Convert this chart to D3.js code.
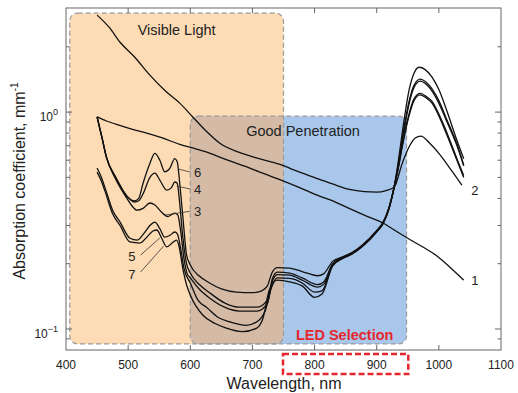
<!DOCTYPE html>
<html>
<head>
    <meta charset="utf-8">
    <script type="text/javascript" src="https://cdn.jsdelivr.net/npm/d3@7"></script>
    <style>
        body { margin: 0; background: #fff; }
        svg text { font-family: "Liberation Sans", Arial, Helvetica, sans-serif; fill: #222; }
    </style>
</head>
<body>
    <div id="viz"></div>
    <script type="text/javascript">
    //Size of the picture
    var width = 518;
    var height = 393;

    //Axis ticks
    var wavelengthTicks = [400, 500, 600, 700, 800, 900, 1000, 1100];
    var majorY = [1, 0.1];
    var minorY = [0.09, 0.2, 0.3, 0.4, 0.5, 0.6, 0.7, 0.8, 0.9, 2];

    //Shaded regions (wavelength from/to, absorption top/bottom)
    var visibleBand = [406, 750, 2.86, 0.0853];
    var penetrationBand = [600, 948, 0.958, 0.0853];
    var ledRange = [750, 950];

    //Spectra: [wavelength nm, absorption mm^-1]
    var curve1 = [[450,0.95],[465,0.91],[480,0.88],[503,0.84],[530,0.80],[555,0.76],[583,0.71],[610,0.675],[631,0.647],[660,0.60],[690,0.56],[711,0.53],[743,0.49],[775,0.45],[808,0.41],[824,0.395],[860,0.355],[880,0.335],[910,0.308],[936,0.277],[950,0.262],[975,0.238],[997,0.217],[1020,0.19],[1040,0.168]];
    var curve2 = [[450,2.80],[470,2.45],[487,2.10],[510,1.80],[535,1.48],[560,1.25],[583,1.10],[604,0.95],[625,0.82],[647,0.72],[680,0.65],[711,0.61],[743,0.575],[775,0.53],[808,0.49],[830,0.465],[856,0.44],[880,0.43],[900,0.428],[915,0.435],[928,0.45],[941,0.58],[952,0.69],[962,0.76],[971,0.775],[985,0.72],[1000,0.645],[1020,0.54],[1037,0.46]];
    var curve3 = [[450,0.95],[458,0.76],[465,0.62],[480,0.49],[498,0.40],[506,0.37],[514,0.353],[524,0.36],[535,0.381],[543,0.373],[554,0.345],[564,0.33],[575,0.342],[580,0.335],[584,0.29],[590,0.21],[595,0.18],[600,0.172],[615,0.152],[631,0.139],[655,0.126],[679,0.121],[707,0.121],[724,0.131],[732,0.165],[740,0.178],[760,0.177],[780,0.168],[805,0.156],[815,0.161],[829,0.199],[845,0.213],[860,0.223],[877,0.242],[900,0.282],[910,0.307],[920,0.362],[928,0.45],[935,0.57],[941,0.73],[952,1.09],[960,1.30],[970,1.39],[980,1.34],[989,1.25],[1000,1.10],[1011,0.93],[1030,0.69],[1040,0.565]];
    var curve4 = [[450,0.95],[458,0.76],[465,0.62],[480,0.50],[498,0.41],[510,0.385],[517,0.39],[524,0.42],[535,0.50],[543,0.523],[551,0.486],[562,0.437],[570,0.45],[575,0.476],[579,0.47],[583,0.38],[588,0.265],[594,0.20],[600,0.181],[615,0.16],[631,0.147],[655,0.132],[679,0.126],[707,0.126],[724,0.136],[732,0.170],[740,0.183],[760,0.181],[780,0.172],[805,0.160],[815,0.165],[829,0.20],[845,0.214],[860,0.224],[877,0.243],[900,0.283],[910,0.308],[920,0.363],[928,0.45],[935,0.58],[941,0.75],[952,1.12],[960,1.33],[970,1.42],[980,1.37],[989,1.28],[1000,1.13],[1011,0.95],[1030,0.70],[1040,0.57]];
    var curve5 = [[450,0.552],[457,0.50],[463,0.446],[475,0.353],[487,0.311],[503,0.262],[515,0.257],[525,0.275],[535,0.30],[543,0.311],[551,0.29],[559,0.265],[567,0.27],[575,0.28],[579,0.275],[584,0.24],[590,0.19],[600,0.163],[613,0.135],[626,0.126],[645,0.113],[663,0.108],[690,0.104],[711,0.110],[720,0.120],[731,0.156],[740,0.172],[760,0.171],[780,0.163],[800,0.148],[812,0.15],[829,0.197],[845,0.212],[860,0.222],[877,0.241],[900,0.281],[910,0.306],[920,0.361],[928,0.45],[935,0.56],[941,0.70],[952,0.98],[960,1.15],[970,1.22],[980,1.18],[989,1.12],[1000,0.98],[1011,0.83],[1030,0.60],[1040,0.51]];
    var curve6 = [[450,0.95],[458,0.76],[465,0.62],[480,0.50],[498,0.41],[510,0.39],[517,0.40],[524,0.47],[535,0.58],[543,0.645],[551,0.60],[559,0.53],[567,0.55],[575,0.61],[579,0.59],[583,0.47],[588,0.33],[594,0.22],[600,0.197],[615,0.175],[631,0.163],[650,0.153],[674,0.148],[700,0.147],[715,0.150],[724,0.158],[732,0.183],[740,0.192],[760,0.191],[780,0.184],[805,0.176],[815,0.18],[829,0.205],[845,0.215],[860,0.225],[877,0.244],[900,0.285],[910,0.31],[920,0.365],[928,0.45],[935,0.60],[941,0.80],[952,1.26],[960,1.51],[968,1.61],[978,1.57],[989,1.45],[1000,1.27],[1011,1.05],[1027,0.77],[1040,0.61]];
    var curve7 = [[450,0.529],[457,0.48],[463,0.43],[475,0.34],[487,0.30],[503,0.252],[519,0.249],[530,0.265],[540,0.283],[546,0.286],[554,0.262],[562,0.239],[570,0.248],[578,0.257],[582,0.24],[588,0.19],[594,0.16],[600,0.1435],[620,0.116],[640,0.106],[658,0.101],[684,0.0973],[707,0.101],[717,0.112],[727,0.151],[740,0.168],[760,0.165],[780,0.158],[800,0.140],[812,0.145],[829,0.195],[845,0.211],[860,0.221],[877,0.240],[900,0.280],[910,0.305],[920,0.36],[928,0.45],[935,0.555],[941,0.69],[952,0.96],[960,1.13],[970,1.20],[980,1.16],[989,1.10],[1000,0.96],[1011,0.81],[1030,0.59],[1040,0.50]];
    var curves = [curve1, curve2, curve3, curve4, curve5, curve6, curve7];

    //Curve labels: text, text position, optional leader line [from, to]
    var curveLabels = [
        {t: '1', at: [1052, 0.168]},
        {t: '2', at: [1052, 0.437]},
        {t: '6', at: [606, 0.53], from: [581, 0.546], to: [600, 0.529]},
        {t: '4', at: [606, 0.442], from: [578, 0.456], to: [600, 0.442]},
        {t: '3', at: [606, 0.349], from: [559, 0.335], to: [600, 0.349]},
        {t: '5', at: [512, 0.216], from: [551, 0.263], to: [520, 0.219], end: true},
        {t: '7', at: [512, 0.18], from: [557, 0.241], to: [520, 0.183], end: true}
    ];

    //Scales
    var x = d3.scaleLinear().domain([400, 1100]).range([66, 501]);
    var y = d3.scaleLog().domain([0.08, 3.02]).range([350, 8]);

    var svg = d3.select("#viz").append("svg")
        .attr("width", width)
        .attr("height", height);

    //Bands
    function bandRect(sel, b) {
        return sel.attr("x", x(b[0])).attr("y", y(b[2]))
            .attr("width", x(b[1]) - x(b[0]))
            .attr("height", y(b[3]) - y(b[2]))
            .attr("rx", 8).attr("ry", 8);
    }
    svg.append("clipPath").attr("id", "visClip")
        .append("rect").call(bandRect, visibleBand);

    svg.append("rect").call(bandRect, visibleBand).attr("fill", "#fddcb5");
    svg.append("rect").call(bandRect, penetrationBand).attr("fill", "#a8c7ea");
    svg.append("rect").call(bandRect, penetrationBand).attr("fill", "#d5bba6")
        .attr("clip-path", "url(#visClip)");
    [visibleBand, penetrationBand].forEach(function(b) {
        svg.append("rect").call(bandRect, b)
            .attr("fill", "none").attr("stroke", "#9a9a9a")
            .attr("stroke-width", 1.2).attr("stroke-dasharray", "5,3");
    });

    svg.append("text").attr("x", (x(visibleBand[0]) + x(visibleBand[1])) / 2).attr("y", 35)
        .attr("text-anchor", "middle").style("font-size", "14.5px").text("Visible Light");
    svg.append("text").attr("x", 303).attr("y", y(penetrationBand[2]) + 20)
        .attr("text-anchor", "middle").style("font-size", "14.5px").text("Good Penetration");
    svg.append("text").attr("x", (x(ledRange[0]) + x(ledRange[1])) / 2 - 1).attr("y", 340)
        .attr("text-anchor", "middle").style("font-size", "14.5px").style("font-weight", "bold")
        .style("fill", "#e5262d").text("LED Selection");

    //Frame
    svg.append("rect").attr("x", 66).attr("y", 8).attr("width", 435).attr("height", 342)
        .attr("fill", "none").attr("stroke", "#666").attr("stroke-width", 1);

    //X axis ticks (inward, bottom and top)
    var xt = svg.append("g").attr("stroke", "#666");
    wavelengthTicks.slice(1, -1).forEach(function(t) {
        xt.append("line").attr("x1", x(t)).attr("x2", x(t)).attr("y1", 350).attr("y2", 345);
        xt.append("line").attr("x1", x(t)).attr("x2", x(t)).attr("y1", 8).attr("y2", 13);
    });
    svg.selectAll(".xlab").data(wavelengthTicks).enter().append("text")
        .attr("x", function(d) { return x(d); }).attr("y", 369)
        .attr("text-anchor", "middle").style("font-size", "12px")
        .text(function(d) { return d; });

    //Y axis ticks (log, inward, left and right)
    var yt = svg.append("g").attr("stroke", "#666");
    majorY.forEach(function(v) {
        yt.append("line").attr("x1", 66).attr("x2", 72).attr("y1", y(v)).attr("y2", y(v));
        yt.append("line").attr("x1", 501).attr("x2", 495).attr("y1", y(v)).attr("y2", y(v));
    });
    minorY.forEach(function(v) {
        yt.append("line").attr("x1", 66).attr("x2", 69.5).attr("y1", y(v)).attr("y2", y(v));
        yt.append("line").attr("x1", 501).attr("x2", 497.5).attr("y1", y(v)).attr("y2", y(v));
    });
    majorY.forEach(function(v) {
        var t = svg.append("text").attr("x", 58).attr("y", y(v) + 9)
            .attr("text-anchor", "end").style("font-size", "12px");
        t.append("tspan").text("10");
        t.append("tspan").attr("dy", -6).style("font-size", "9px")
            .text(Math.round(Math.log10(v)) < 0 ? "\u2212" + (-Math.round(Math.log10(v))) : "0");
    });

    //Red dashed box around LED ticks
    svg.append("rect").attr("x", x(ledRange[0]) - 0.5).attr("y", 354)
        .attr("width", x(ledRange[1]) - x(ledRange[0]) + 1).attr("height", 20)
        .attr("fill", "none").attr("stroke", "#e5262d")
        .attr("stroke-width", 2.5).attr("stroke-dasharray", "6,3");

    //Axis titles
    svg.append("text").attr("x", 284).attr("y", 389).attr("text-anchor", "middle")
        .style("font-size", "16px").text("Wavelength, nm");
    var yl = svg.append("text").attr("transform", "translate(25,181) rotate(-90)")
        .attr("text-anchor", "middle").style("font-size", "16px");
    yl.append("tspan").text("Absorption coefficient, mm");
    yl.append("tspan").attr("dy", -7).style("font-size", "10px").text("-1");

    //Spectra
    var line = d3.line()
        .x(function(d) { return x(d[0]); })
        .y(function(d) { return y(d[1]); })
        .curve(d3.curveMonotoneX);
    svg.selectAll(".spec").data(curves).enter().append("path")
        .attr("d", line)
        .attr("fill", "none").attr("stroke", "#111").attr("stroke-width", 1.3);

    //Labels and leaders
    curveLabels.forEach(function(l) {
        if (l.from) {
            svg.append("line")
                .attr("x1", x(l.from[0])).attr("y1", y(l.from[1]))
                .attr("x2", x(l.to[0])).attr("y2", y(l.to[1]))
                .attr("stroke", "#333").attr("stroke-width", 0.8);
        }
        svg.append("text").attr("x", x(l.at[0])).attr("y", y(l.at[1]) + 5)
            .attr("text-anchor", l.end ? "end" : "start")
            .style("font-size", "13px").text(l.t);
    });
    </script>
</body>
</html>
